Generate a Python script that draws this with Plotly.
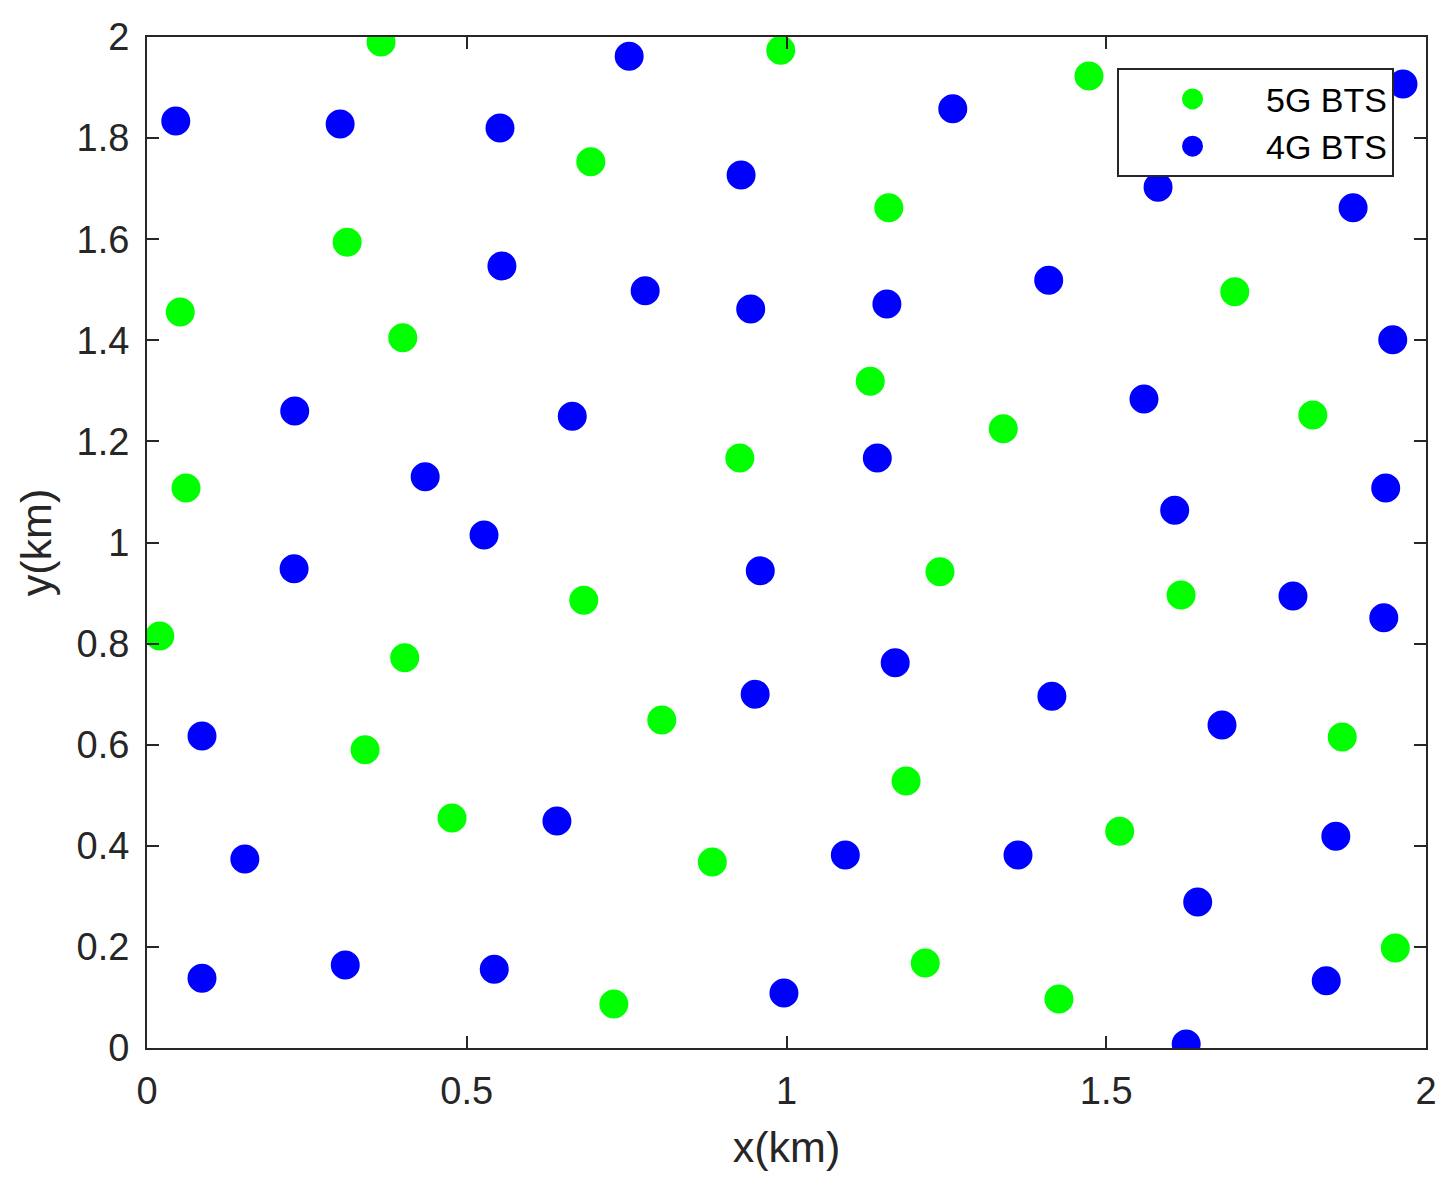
import plotly.graph_objects as go

# 5G BTS locations (km)
g5_x = [0.366, 0.991, 1.473, 0.694, 1.160, 0.313, 0.052, 0.400, 1.701, 1.131,
        1.339, 1.823, 0.927, 0.061, 1.240, 0.683, 1.617, 0.020, 0.403, 0.805,
        0.341, 1.869, 1.187, 0.477, 1.521, 0.884, 1.217, 0.730, 1.426, 1.952]
g5_y = [1.990, 1.974, 1.923, 1.753, 1.662, 1.594, 1.456, 1.405, 1.496, 1.319,
        1.225, 1.252, 1.167, 1.108, 0.942, 0.886, 0.896, 0.815, 0.772, 0.649,
        0.590, 0.615, 0.528, 0.455, 0.429, 0.368, 0.168, 0.087, 0.097, 0.198]

# 4G BTS locations (km)
g4_x = [0.754, 0.045, 0.302, 0.552, 1.260, 1.964, 0.929, 1.581, 1.886, 0.555,
        0.779, 0.944, 1.157, 1.410, 1.948, 0.231, 0.665, 1.559, 0.435, 1.142,
        1.937, 0.527, 1.607, 0.230, 0.959, 1.792, 1.934, 1.170, 0.951, 1.415,
        0.086, 1.681, 0.641, 0.153, 1.092, 1.362, 1.859, 1.643, 0.086, 0.310,
        0.543, 0.996, 1.844, 1.625]
g4_y = [1.962, 1.834, 1.828, 1.820, 1.858, 1.907, 1.727, 1.703, 1.662, 1.547,
        1.498, 1.462, 1.472, 1.519, 1.401, 1.260, 1.250, 1.284, 1.130, 1.167,
        1.108, 1.015, 1.064, 0.948, 0.944, 0.894, 0.851, 0.762, 0.700, 0.696,
        0.617, 0.639, 0.449, 0.374, 0.382, 0.382, 0.419, 0.289, 0.138, 0.164,
        0.156, 0.109, 0.133, 0.008]

x_ticks = [0, 0.5, 1, 1.5, 2]
x_ticklabels = ["0", "0.5", "1", "1.5", "2"]
y_ticks = [0, 0.2, 0.4, 0.6, 0.8, 1, 1.2, 1.4, 1.6, 1.8, 2]
y_ticklabels = ["0", "0.2", "0.4", "0.6", "0.8", "1", "1.2", "1.4", "1.6", "1.8", "2"]

GREEN = "#00FF00"
BLUE = "#0000FF"
INK = "#262626"
FONT = "Liberation Sans, Arial, sans-serif"

fig = go.Figure()
fig.add_trace(go.Scatter(
    x=g5_x, y=g5_y, mode="markers", name="5G BTS",
    marker=dict(color=GREEN, size=24, line=dict(color=GREEN, width=5)),
))
fig.add_trace(go.Scatter(
    x=g4_x, y=g4_y, mode="markers", name="4G BTS",
    marker=dict(color=BLUE, size=24, line=dict(color=BLUE, width=5)),
))

axis_common = dict(
    showline=True, linecolor=INK, linewidth=2, mirror="ticks",
    ticks="inside", ticklen=12, tickwidth=2, tickcolor=INK,
    showgrid=False, zeroline=False, automargin=False,
    tickfont=dict(family=FONT, size=38, color=INK),
)

fig.update_layout(
    width=1436, height=1176,
    margin=dict(l=139, r=18, t=29, b=136),
    paper_bgcolor="white", plot_bgcolor="white",
    font=dict(family=FONT, color=INK),
    xaxis=dict(range=[0, 2], tickvals=x_ticks, ticktext=x_ticklabels,
               title=dict(text="x(km)", font=dict(family=FONT, size=43, color=INK), standoff=21),
               ticklabelstandoff=8, **axis_common),
    yaxis=dict(range=[0, 2], tickvals=y_ticks, ticktext=y_ticklabels,
               title=dict(text="y(km)", font=dict(family=FONT, size=43, color=INK), standoff=12),
               ticklabelstandoff=8, **axis_common),
    legend=dict(
        x=0.975, y=0.969, xanchor="right", yanchor="top",
        bgcolor="white", bordercolor=INK, borderwidth=2,
        font=dict(family=FONT, size=34, color="black"),
        itemwidth=137, tracegroupgap=0,
    ),
    showlegend=True,
)

fig.write_html("out.html")
